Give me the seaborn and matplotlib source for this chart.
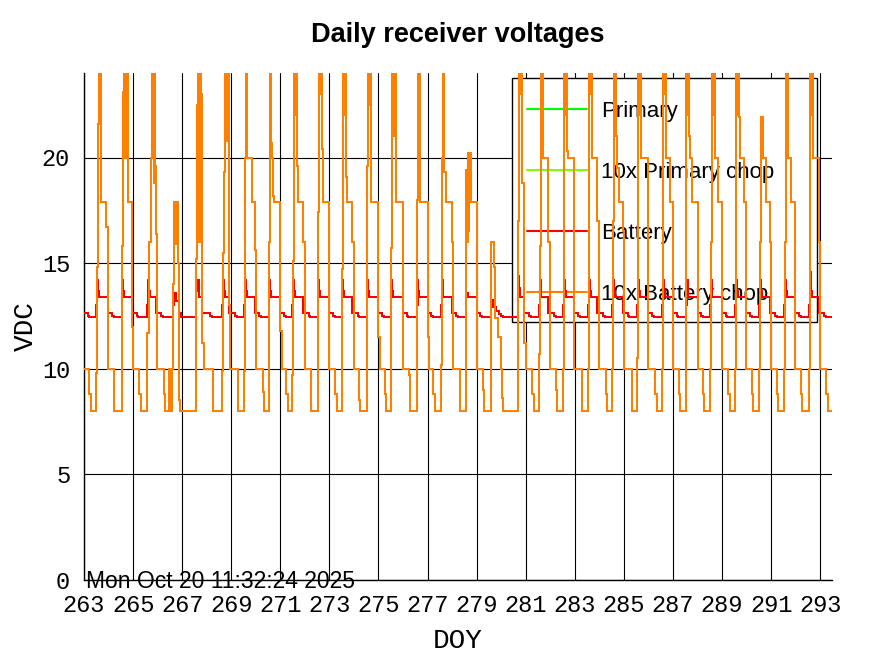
import matplotlib
matplotlib.use("Agg")
import matplotlib.pyplot as plt
from matplotlib.patches import Rectangle
import seaborn as sns

# --------------------------------------------------
# Data (DOY, VDC), step-wise
# --------------------------------------------------
primary_doy = []
primary_vdc = []
primary_chop_doy = []
primary_chop_vdc = []

battery_doy = [
    263.00, 263.15, 263.22,
    263.50, 263.53, 263.57, 263.60, 263.96, 264.15, 264.22,
    264.53, 264.56, 264.60, 264.63, 264.97, 265.15, 265.22,
    265.58, 265.61, 265.65, 265.68, 265.93, 266.15, 266.22,
    266.64, 266.67, 266.74, 266.86, 266.95,
    267.55, 267.58, 267.62, 267.65, 267.70, 267.82, 268.15, 268.22,
    268.64, 268.67, 268.71, 268.74, 268.92, 269.15, 269.22,
    269.53, 269.56, 269.60, 269.63, 269.96, 270.15, 270.22,
    270.52, 270.55, 270.59, 270.62, 270.98, 271.15, 271.22,
    271.49, 271.52, 271.56, 271.59, 271.94, 272.15, 272.22,
    272.52, 272.55, 272.59, 272.62, 272.98, 273.15, 273.22,
    273.50, 273.53, 273.57, 273.60, 273.94, 274.15, 274.22,
    274.52, 274.55, 274.59, 274.62, 274.96, 275.15, 275.22,
    275.50, 275.53, 275.57, 275.60, 276.00, 276.15, 276.22,
    276.56, 276.59, 276.63, 276.66, 277.00, 277.15, 277.22,
    277.54, 277.57, 277.61, 277.64, 277.98, 278.15, 278.22,
    278.55, 278.58, 278.66, 279.00, 279.15, 279.22,
    279.57, 279.60, 279.68, 279.78, 279.92, 280.00, 280.07,
    280.67, 280.70, 280.74, 280.78, 280.93, 281.15, 281.22,
    281.54, 281.57, 281.61, 281.64, 281.92, 282.15, 282.22,
    282.53, 282.56, 282.60, 282.63, 282.97, 283.15, 283.22,
    283.54, 283.57, 283.61, 283.64, 283.92, 284.15, 284.22,
    284.53, 284.56, 284.60, 284.63, 284.97, 285.15, 285.22,
    285.55, 285.58, 285.62, 285.65, 285.97, 286.15, 286.22,
    286.56, 286.59, 286.63, 286.66, 287.00, 287.15, 287.22,
    287.53, 287.56, 287.60, 287.63, 288.00, 288.15, 288.22,
    288.51, 288.54, 288.58, 288.61, 288.98, 289.15, 289.22,
    289.53, 289.56, 289.60, 289.63, 289.96, 290.15, 290.22,
    290.51, 290.54, 290.58, 290.61, 290.96, 291.15, 291.22,
    291.53, 291.56, 291.60, 291.63, 291.98, 292.15, 292.22,
    292.55, 292.58, 292.62, 292.65, 292.95, 293.15, 293.22, 293.48,
]
battery_vdc = [
    12.62, 12.52, 12.43,
    13.0, 14.2, 13.7, 13.4, 12.62, 12.52, 12.43,
    13.0, 14.2, 13.7, 13.4, 12.62, 12.52, 12.43,
    13.0, 14.2, 13.7, 13.4, 12.62, 12.52, 12.43,
    13.0, 13.6, 13.2, 12.62, 12.43,
    13.0, 14.2, 13.7, 14.2, 13.4, 12.62, 12.52, 12.43,
    13.0, 14.2, 13.7, 13.4, 12.62, 12.52, 12.43,
    13.0, 14.2, 13.7, 13.4, 12.62, 12.52, 12.43,
    13.0, 14.2, 13.7, 13.4, 12.62, 12.52, 12.43,
    13.0, 14.2, 13.7, 13.4, 12.62, 12.52, 12.43,
    13.0, 14.2, 13.7, 13.4, 12.62, 12.52, 12.43,
    13.0, 14.2, 13.7, 13.4, 12.62, 12.52, 12.43,
    13.0, 14.2, 13.7, 13.4, 12.62, 12.52, 12.43,
    13.0, 14.2, 13.7, 13.4, 12.62, 12.52, 12.43,
    13.0, 14.2, 13.7, 13.4, 12.62, 12.52, 12.43,
    13.0, 14.2, 13.7, 13.4, 12.62, 12.52, 12.43,
    13.0, 13.6, 13.4, 12.62, 12.52, 12.43,
    12.9, 13.25, 12.9, 12.75, 12.6, 12.5, 12.43,
    13.0, 14.4, 13.8, 13.4, 12.62, 12.52, 12.43,
    13.0, 14.2, 13.7, 13.4, 12.62, 12.52, 12.43,
    13.0, 14.2, 13.7, 13.4, 12.62, 12.52, 12.43,
    13.0, 14.2, 13.7, 13.4, 12.62, 12.52, 12.43,
    13.0, 14.2, 13.7, 13.4, 12.62, 12.52, 12.43,
    13.0, 14.2, 13.7, 13.4, 12.62, 12.52, 12.43,
    13.0, 14.2, 13.7, 13.4, 12.62, 12.52, 12.43,
    13.0, 14.2, 13.7, 13.4, 12.62, 12.52, 12.43,
    13.0, 14.2, 13.7, 13.4, 12.62, 12.52, 12.43,
    13.0, 14.2, 13.7, 13.4, 12.62, 12.52, 12.43,
    13.0, 14.2, 13.7, 13.4, 12.62, 12.52, 12.43,
    13.0, 14.2, 13.7, 13.4, 12.62, 12.52, 12.43,
    13.0, 14.6, 13.7, 13.4, 12.62, 12.52, 12.43, 12.43,
]

# 10x battery chop, one row per day (values above 24 run off the top)
chop_doy = [
    263.00, 263.20, 263.27, 263.50, 263.53, 263.56, 263.60, 263.64, 263.66, 263.70, 263.89, 263.96, 263.98,
    264.22, 264.24, 264.53, 264.56, 264.60, 264.64, 264.69, 264.72, 264.78, 264.97, 265.00,
    265.24, 265.31, 265.58, 265.65, 265.72, 265.79, 265.84, 265.86, 265.90, 265.93, 265.97,
    266.24, 266.30, 266.48, 266.53, 266.57, 266.64, 266.68, 266.73, 266.76, 266.82, 266.86, 266.89, 266.93,
    267.55, 267.58, 267.62, 267.66, 267.70, 267.72, 267.78, 267.82, 267.88,
    268.24, 268.26, 268.64, 268.66, 268.70, 268.74, 268.80, 268.83, 268.92, 268.96,
    269.26, 269.29, 269.53, 269.55, 269.57, 269.60, 269.66, 269.84, 269.86, 269.96, 270.00,
    270.30, 270.32, 270.52, 270.55, 270.58, 270.64, 270.67, 270.70, 270.74, 270.98, 271.05,
    271.22, 271.30, 271.49, 271.51, 271.55, 271.60, 271.62, 271.66, 271.69, 271.73, 271.94, 272.00,
    272.24, 272.26, 272.52, 272.55, 272.59, 272.64, 272.66, 272.69, 272.72, 272.75, 272.98,
    273.23, 273.30, 273.50, 273.53, 273.57, 273.62, 273.64, 273.68, 273.73, 273.94, 274.00,
    274.22, 274.25, 274.52, 274.58, 274.63, 274.65, 274.69, 274.71, 274.96, 275.00, 275.05,
    275.26, 275.29, 275.50, 275.53, 275.57, 275.63, 275.65, 275.71, 275.73, 276.00,
    276.25, 276.28, 276.56, 276.58, 276.59, 276.65, 276.67, 276.70, 277.00, 277.04,
    277.23, 277.30, 277.54, 277.57, 277.59, 277.61, 277.68, 277.75, 277.98, 278.04,
    278.32, 278.55, 278.60, 278.63, 278.66, 278.68, 278.75, 278.79, 279.00,
    279.27, 279.31, 279.57, 279.60, 279.72, 279.75, 279.85, 279.99, 280.02, 280.09,
    280.67, 280.69, 280.72, 280.78, 280.80, 280.84, 280.86, 280.93, 281.00,
    281.27, 281.35, 281.54, 281.57, 281.61, 281.65, 281.67, 281.69, 281.92, 281.99,
    282.25, 282.29, 282.53, 282.55, 282.57, 282.63, 282.65, 282.70, 282.72, 282.97,
    283.28, 283.31, 283.54, 283.56, 283.58, 283.63, 283.65, 283.70, 283.72, 283.92, 283.99,
    284.26, 284.33, 284.53, 284.55, 284.58, 284.63, 284.65, 284.67, 284.72, 284.81, 284.97, 285.01,
    285.31, 285.33, 285.55, 285.56, 285.58, 285.63, 285.65, 285.69, 285.97,
    286.26, 286.33, 286.56, 286.58, 286.60, 286.64, 286.66, 286.70, 286.87, 287.01,
    287.24, 287.28, 287.53, 287.55, 287.60, 287.62, 287.66, 287.70, 287.76, 288.00,
    288.24, 288.26, 288.51, 288.54, 288.57, 288.63, 288.65, 288.71, 288.85, 288.98,
    289.26, 289.32, 289.53, 289.55, 289.57, 289.62, 289.64, 289.67, 289.75, 289.89, 289.96, 289.99,
    290.24, 290.26, 290.51, 290.54, 290.58, 290.60, 290.68, 290.78, 290.96, 290.98,
    291.22, 291.26, 291.53, 291.56, 291.59, 291.63, 291.65, 291.68, 291.80, 291.98,
    292.20, 292.24, 292.55, 292.57, 292.58, 292.63, 292.65, 292.71, 292.95, 292.98,
    293.23, 293.30, 293.48,
]
chop_vdc = [
    10.0, 8.8, 8.0, 9.8, 14.8, 21.6, 27.0, 22.7, 26.0, 17.9, 16.7, 11.0, 10.0,
    9.7, 8.0, 9.7, 15.8, 23.1, 27.0, 20.0, 28.0, 17.9, 12.0, 10.0,
    8.8, 8.0, 11.7, 16.0, 20.0, 27.0, 18.8, 26.0, 19.6, 16.4, 10.0,
    8.8, 8.0, 10.0, 8.0, 10.0, 14.0, 17.9, 15.9, 17.9, 15.0, 10.7, 8.5, 8.0,
    9.8, 15.2, 22.5, 27.0, 16.0, 27.0, 23.0, 11.2, 10.0,
    9.0, 8.0, 9.9, 15.5, 19.3, 27.0, 20.8, 26.0, 13.0, 10.0,
    8.8, 8.0, 9.9, 14.9, 20.0, 27.0, 20.0, 19.6, 17.9, 15.6, 10.0,
    8.9, 8.0, 9.8, 16.0, 27.0, 20.7, 20.0, 18.2, 17.9, 11.8, 10.0,
    8.8, 8.0, 9.7, 15.1, 27.0, 22.0, 26.0, 20.7, 19.6, 17.9, 16.0, 10.0,
    9.6, 8.0, 12.1, 17.4, 27.0, 23.0, 26.0, 20.4, 18.1, 17.9, 10.0,
    8.8, 8.0, 9.8, 14.7, 27.0, 22.0, 26.0, 19.1, 17.9, 16.0, 10.0,
    8.5, 8.0, 19.6, 27.0, 22.5, 26.0, 20.8, 17.9, 16.4, 11.5, 10.0,
    8.8, 8.0, 10.1, 15.7, 27.0, 21.0, 26.0, 19.1, 17.9, 10.0,
    9.7, 8.0, 11.5, 18.0, 27.0, 23.0, 26.0, 17.9, 11.5, 10.0,
    8.8, 8.0, 10.2, 13.3, 20.0, 27.0, 19.3, 17.9, 16.0, 10.0,
    8.0, 19.4, 16.0, 20.2, 16.5, 20.2, 18.2, 17.9, 10.0,
    9.0, 8.0, 11.5, 16.0, 14.8, 12.4, 11.5, 10.0, 8.6, 8.0,
    9.8, 17.0, 27.0, 23.0, 27.0, 21.1, 18.8, 11.2, 10.0,
    8.8, 8.0, 10.7, 15.8, 27.0, 23.0, 27.0, 20.0, 16.0, 10.0,
    9.0, 8.0, 10.0, 16.0, 27.0, 22.0, 27.0, 20.3, 20.0, 10.0,
    8.8, 8.0, 10.0, 16.0, 27.0, 23.0, 27.0, 20.5, 20.0, 17.0, 10.0,
    8.8, 8.0, 10.0, 17.0, 27.0, 23.0, 27.0, 21.0, 19.5, 17.9, 16.5, 10.0,
    8.8, 8.0, 10.5, 17.0, 27.0, 22.0, 27.0, 20.0, 10.0,
    8.8, 8.0, 10.0, 17.0, 27.0, 23.0, 27.0, 20.0, 17.9, 10.0,
    8.8, 8.0, 10.0, 27.0, 22.0, 27.0, 21.0, 20.0, 17.9, 10.0,
    8.8, 8.0, 10.0, 16.0, 27.0, 22.0, 27.0, 20.0, 17.9, 10.0,
    8.8, 8.0, 10.0, 16.0, 27.0, 22.0, 26.0, 21.9, 20.0, 17.9, 16.0, 10.0,
    8.8, 8.0, 10.0, 16.0, 20.0, 21.9, 20.0, 17.9, 16.0, 10.0,
    8.8, 8.0, 10.0, 16.0, 27.0, 22.0, 27.0, 20.0, 17.9, 10.0,
    8.8, 8.0, 10.0, 17.0, 27.0, 22.0, 27.0, 20.0, 16.0, 10.0,
    8.8, 8.0, 8.0,
]

x_ticks = list(range(263, 294, 2))
y_ticks = [0, 5, 10, 15, 20]
stamp = "Mon Oct 20 11:32:24 2025"

# --------------------------------------------------
# Figure
# --------------------------------------------------
sns.set_style("white")
plt.rcParams["font.family"] = ["Liberation Mono", "DejaVu Sans Mono"]
for key in ["text.color", "axes.labelcolor", "xtick.color", "ytick.color"]:
    plt.rcParams[key] = "black"
sans = ["Liberation Sans", "DejaVu Sans"]

W, H = 871, 654
fig = plt.figure(figsize=(W / 100, H / 100), dpi=100)
ax = fig.add_axes([84 / W, 74 / H, 748 / W, 507 / H])

ax.plot(primary_doy, primary_vdc, color="#00ff00", lw=1.5, label="Primary")
ax.plot(primary_chop_doy, primary_chop_vdc, color="#80ff00", lw=1.5,
        label="10x Primary chop")
sns.lineplot(x=battery_doy, y=battery_vdc, ax=ax, color="#ff0000", lw=1.1,
             drawstyle="steps-post", estimator=None, sort=False,
             antialiased=False, label="Battery", zorder=3)
sns.lineplot(x=chop_doy, y=chop_vdc, ax=ax, color="#ff8000", lw=1.1,
             drawstyle="steps-post", estimator=None, sort=False,
             antialiased=False, label="10x Battery chop", zorder=4)

ax.set_xlim(263, 293.48)
ax.set_ylim(0, 24)
ax.set_xticks(x_ticks)
ax.set_yticks(y_ticks)
ax.grid(True, color="black", lw=0.8)
ax.set_axisbelow(True)
for side in ["top", "right"]:
    ax.spines[side].set_visible(False)
for side in ["left", "bottom"]:
    ax.spines[side].set_color("black")
    ax.spines[side].set_linewidth(1.0)
ax.tick_params(direction="in", length=0, labelsize=17, pad=10)

ax.set_xlabel("DOY", fontsize=20, labelpad=8)
ax.set_ylabel("VDC", fontsize=20, labelpad=2)
ax.set_title("Daily receiver voltages", fontsize=19.5, fontweight="bold",
             family=sans, pad=22)

# key box: white panel over the grid, data lines drawn on top of it
box = Rectangle((512 / W, (H - 322) / H), 305 / W, 244 / H,
                transform=fig.transFigure, facecolor="white",
                edgecolor="black", lw=1.0, zorder=1.5)
ax.add_patch(box)
box.set_clip_on(False)

leg = ax.legend(loc="upper left", bbox_to_anchor=(527 / W, (H - 101) / H),
                bbox_transform=fig.transFigure, frameon=False,
                borderaxespad=0, borderpad=0, handlelength=2.7,
                handletextpad=0.63, labelspacing=1.8,
                prop={"family": sans, "size": 16})
leg.set_zorder(2)
for handle in leg.get_lines():
    handle.set_linewidth(1.5)

fig.text(86 / W, (H - 588) / H, stamp, fontsize=16.5, va="baseline",
         family=sans)

fig.savefig("out.png", dpi=100)
